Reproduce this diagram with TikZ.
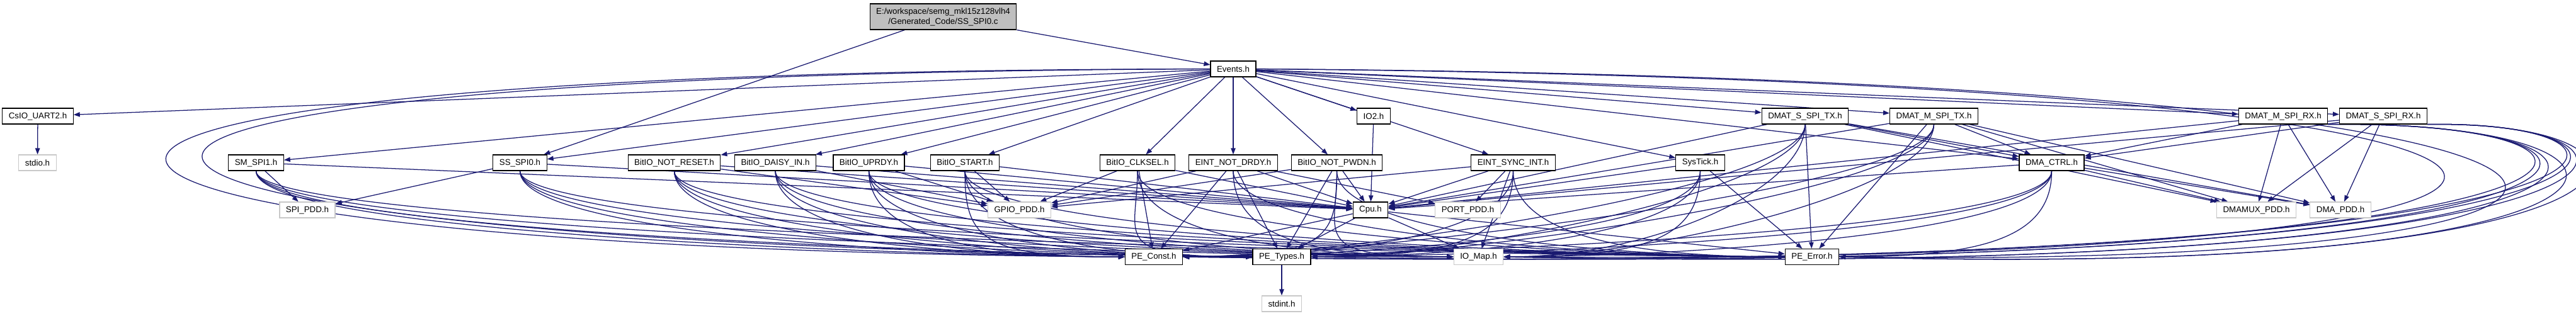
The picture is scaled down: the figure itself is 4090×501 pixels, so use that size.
\documentclass[tikz,border=0pt]{standalone}
\usepackage{fontspec}
\setmainfont{Liberation Sans}
\usetikzlibrary{arrows.meta, backgrounds}
\definecolor{cEdge}  {HTML}{191970}
\definecolor{cRoot}  {HTML}{BFBFBF}
\definecolor{cNoDoc} {HTML}{C8C8C8}

\tikzset{
  hdr/.style={draw=black, line width=0.9pt, fill=white, font=\fontsize{10}{12}\selectfont,
    inner xsep=7.5pt, inner ysep=0pt, minimum height=18.75pt},
  sysh/.style={hdr, draw=cNoDoc},
  rooth/.style={hdr, fill=cRoot, align=center, minimum height=30.75pt},
  inc/.style={draw=cEdge, line width=0.95pt, -{Triangle[length=7.5pt,width=5.5pt]}},
  sweepL/.style={to path={(\tikztostart.south) .. controls +(0,105) and +(-230,0) .. (\tikztotarget.west)}},
  sweepR/.style={to path={(\tikztostart.south) .. controls +(0,105) and +(230,0) .. (\tikztotarget.east)}},
  loopR/.style={to path={(\tikztostart.south east) .. controls (4290,190) and (4290,445) .. (\tikztotarget.east)}},
}

\begin{document}
\begin{tikzpicture}[x=0.75pt, y=-0.75pt]
  \useasboundingbox (0,0) rectangle (4090,501);

  % top
  \node[rooth] (root) at (1497.5,26.5) {E:/workspace/semg\_mkl15z128vlh4\\/Generated\_Code/SS\_SPI0.c};
  \node[hdr] (events) at (1958,109.5) {Events.h};

  % first row
  \node[hdr] (csio)   at (60,184.5)     {CsIO\_UART2.h};
  \node[hdr] (iotwo)  at (2181,184.5)   {IO2.h};
  \node[hdr] (dmastx) at (2866,184.5)   {DMAT\_S\_SPI\_TX.h};
  \node[hdr] (dmamtx) at (3070.5,184.5) {DMAT\_M\_SPI\_TX.h};
  \node[hdr] (dmamrx) at (3625,184.5)   {DMAT\_M\_SPI\_RX.h};
  \node[hdr] (dmasrx) at (3784,184.5)   {DMAT\_S\_SPI\_RX.h};

  % second row
  \node[sysh] (stdio) at (59.5,258.5)  {stdio.h};
  \node[hdr] (smspi)   at (406.5,258.5)  {SM\_SPI1.h};
  \node[hdr] (ssspi)   at (825.5,258.5)  {SS\_SPI0.h};
  \node[hdr] (nreset)  at (1070.5,258.5) {BitIO\_NOT\_RESET.h};
  \node[hdr] (daisy)   at (1231,258.5)   {BitIO\_DAISY\_IN.h};
  \node[hdr] (uprdy)   at (1379.5,258.5) {BitIO\_UPRDY.h};
  \node[hdr] (start)   at (1532,258.5)   {BitIO\_START.h};
  \node[hdr] (clksel)  at (1806,258.5)   {BitIO\_CLKSEL.h};
  \node[hdr] (ndrdy)   at (1958,258.5)   {EINT\_NOT\_DRDY.h};
  \node[hdr] (npwdn)   at (2122.5,258.5) {BitIO\_NOT\_PWDN.h};
  \node[hdr] (syncint) at (2402.5,258.5) {EINT\_SYNC\_INT.h};
  \node[hdr] (systick) at (2699.5,258.5) {SysTick.h};
  \node[hdr] (dmactrl) at (3257.5,258.5) {DMA\_CTRL.h};

  % third row
  \node[sysh] (spipdd)    at (488,333.5)    {SPI\_PDD.h};
  \node[sysh] (gpiopdd)   at (1618.5,333.5) {GPIO\_PDD.h};
  \node[hdr]  (cpu)       at (2176,333.5)   {Cpu.h};
  \node[sysh] (portpdd)   at (2330.5,333.5) {PORT\_PDD.h};
  \node[sysh] (dmamuxpdd) at (3582.5,333.5) {DMAMUX\_PDD.h};
  \node[sysh] (dmapdd)    at (3716,333.5)   {DMA\_PDD.h};

  % bottom rows
  \node[hdr]  (peconst) at (1832,408)   {PE\_Const.h};
  \node[hdr]  (petypes) at (2035,408)   {PE\_Types.h};
  \node[sysh] (iomap)   at (2347.5,408) {IO\_Map.h};
  \node[hdr]  (peerror) at (2877,408)   {PE\_Error.h};
  \node[sysh] (stdint)  at (2035,482.5) {stdint.h};

  \begin{scope}[on background layer]
    \draw[inc] (root) -- (ssspi);
    \draw[inc] (root) -- (events);
    \foreach \t in {csio, smspi, ssspi, nreset, daisy, uprdy, start, clksel, ndrdy, npwdn,
                    iotwo, syncint, systick, dmastx, dmamtx, dmamrx, dmasrx, dmactrl}
      \draw[inc] (events) -- (\t);
    \draw[inc] (events.west) .. controls (-380,112) and (-150,395) .. (peconst.west);
    \draw[inc] (events.west) .. controls (-330,118) and (-110,390) .. (petypes.west);
    \draw[inc] (events.east) .. controls (4500,125) and (4420,430) .. (peerror.east);
    \draw[inc] (events.east) .. controls (4480,130) and (4400,425) .. (iomap.east);
    \draw[inc] (csio) -- (stdio);
    \draw[inc] (petypes) -- (stdint);

    % straight includes
    \foreach \s in {smspi, ssspi}
      \draw[inc] (\s) -- (spipdd);
    \foreach \s in {smspi, ssspi, nreset, daisy, uprdy, start, clksel, ndrdy, npwdn,
                    iotwo, syncint, systick, dmastx, dmamtx, dmamrx, dmasrx, dmactrl}
      \draw[inc] (\s) -- (cpu);
    \foreach \s in {nreset, daisy, uprdy, start, clksel, ndrdy, npwdn, syncint}
      \draw[inc] (\s) -- (gpiopdd);
    \foreach \s in {ndrdy, syncint}
      \draw[inc] (\s) -- (portpdd);
    \foreach \s in {dmastx, dmamtx, dmamrx, dmasrx}
      \draw[inc] (\s) -- (dmactrl);
    \foreach \s in {dmastx, dmamtx, dmamrx, dmasrx, dmactrl} {
      \draw[inc] (\s) -- (dmapdd);
      \draw[inc] (\s) -- (dmamuxpdd);
    }

    % PE_Const.h
    \foreach \s in {smspi, ssspi, nreset, daisy, uprdy, start}
      \draw[inc] (\s) to[sweepL] (peconst);
    \foreach \s in {clksel, ndrdy, cpu}
      \draw[inc] (\s) -- (peconst);
    \foreach \s in {npwdn, syncint, systick, dmastx, dmamtx, dmactrl}
      \draw[inc] (\s) to[sweepR] (peconst);
    % PE_Types.h
    \foreach \s in {smspi, ssspi, nreset, daisy, uprdy, start, clksel}
      \draw[inc] (\s) to[sweepL] (petypes);
    \foreach \s in {ndrdy, npwdn, cpu}
      \draw[inc] (\s) -- (petypes);
    \foreach \s in {syncint, systick, dmastx, dmamtx, dmactrl}
      \draw[inc] (\s) to[sweepR] (petypes);
    % IO_Map.h
    \foreach \s in {smspi, ssspi, nreset, daisy, uprdy, start, clksel, ndrdy, npwdn}
      \draw[inc] (\s) to[sweepL] (iomap);
    \foreach \s in {syncint, cpu}
      \draw[inc] (\s) -- (iomap);
    \foreach \s in {systick, dmastx, dmamtx, dmactrl}
      \draw[inc] (\s) to[sweepR] (iomap);
    % PE_Error.h
    \foreach \s in {smspi, ssspi, nreset, daisy, uprdy, start, clksel, ndrdy, npwdn, syncint}
      \draw[inc] (\s) to[sweepL] (peerror);
    \foreach \s in {cpu, systick, dmastx, dmamtx}
      \draw[inc] (\s) -- (peerror);
    \draw[inc] (dmactrl) to[sweepR] (peerror);
    % DMAT rx loops
    \foreach \s in {dmamrx, dmasrx}
      \foreach \t in {peconst, petypes, iomap, peerror}
        \draw[inc] (\s) to[loopR] (\t);
  \end{scope}
\end{tikzpicture}
\end{document}
